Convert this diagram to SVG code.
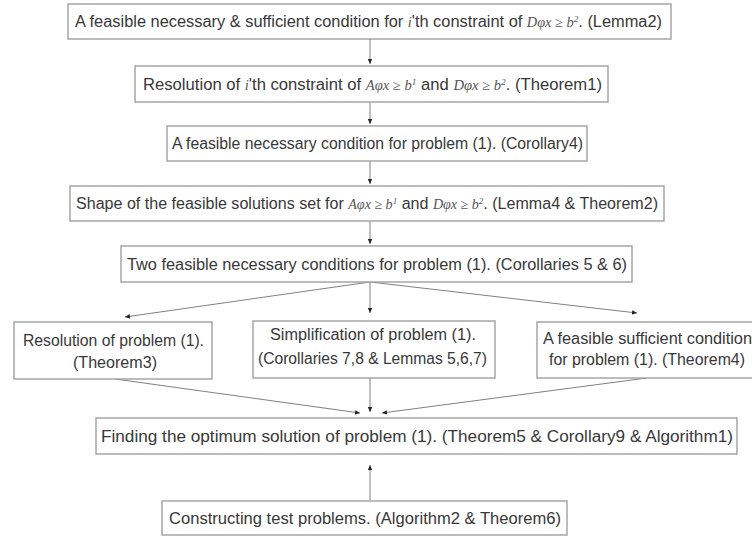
<svg xmlns="http://www.w3.org/2000/svg" width="752" height="542" viewBox="0 0 752 542">
<defs>
<marker id="ah" markerUnits="userSpaceOnUse" markerWidth="6" markerHeight="6" refX="5" refY="3" orient="auto">
<path d="M0,0.8 L5,3 L0,5.2 z" fill="#222"/>
</marker>
<style>
.box{fill:#fff;stroke:#a0a0a0;stroke-width:1.4}
.t{font-family:"Liberation Sans",Arial,sans-serif;font-size:16px;fill:#383838}
.m{font-family:"Liberation Serif","Times New Roman",serif;font-style:italic;font-size:14px;fill:#555}
.sup{font-size:9px}
.c{stroke:#808080;stroke-width:1;fill:none;marker-end:url(#ah)}
</style>
</defs>
<rect width="752" height="542" fill="#fff"/>
<g id="connectors">
<line class="c" x1="370" y1="39" x2="370" y2="64"/>
<line class="c" x1="370" y1="102" x2="370" y2="124"/>
<line class="c" x1="370" y1="161" x2="370" y2="184"/>
<line class="c" x1="370" y1="221" x2="370" y2="244"/>
<line class="c" x1="370" y1="282" x2="125" y2="317"/>
<line class="c" x1="370" y1="282" x2="370" y2="313"/>
<line class="c" x1="370" y1="282" x2="637" y2="313"/>
<line class="c" x1="115" y1="379" x2="360" y2="413"/>
<line class="c" x1="370" y1="378" x2="370" y2="412"/>
<line class="c" x1="647" y1="378" x2="382" y2="413"/>
<line class="c" x1="370" y1="500" x2="370" y2="465"/>
</g>
<g id="n1">
<rect class="box" x="68" y="4" width="603" height="35"/>
<text class="t" x="75" y="27" textLength="587" lengthAdjust="spacingAndGlyphs">A feasible necessary &amp; sufficient condition for <tspan class="m">i</tspan>'th constraint of <tspan class="m">Dφx ≥ b</tspan><tspan class="m sup" baseline-shift="super">2</tspan>. (Lemma2)</text>
</g>
<g id="n2">
<rect class="box" x="135" y="66" width="473" height="36"/>
<text class="t" x="143" y="90" textLength="459" lengthAdjust="spacingAndGlyphs">Resolution of <tspan class="m">i</tspan>'th constraint of <tspan class="m">Aφx ≥ b</tspan><tspan class="m sup" baseline-shift="super">1</tspan> and <tspan class="m">Dφx ≥ b</tspan><tspan class="m sup" baseline-shift="super">2</tspan>. (Theorem1)</text>
</g>
<g id="n3">
<rect class="box" x="167" y="126" width="420" height="35"/>
<text class="t" x="172" y="149" textLength="411" lengthAdjust="spacingAndGlyphs">A feasible necessary condition for problem (1). (Corollary4)</text>
</g>
<g id="n4">
<rect class="box" x="70" y="186" width="594" height="35"/>
<text class="t" x="76" y="209" textLength="582" lengthAdjust="spacingAndGlyphs">Shape of the feasible solutions set for <tspan class="m">Aφx ≥ b</tspan><tspan class="m sup" baseline-shift="super">1</tspan> and <tspan class="m">Dφx ≥ b</tspan><tspan class="m sup" baseline-shift="super">2</tspan>. (Lemma4 &amp; Theorem2)</text>
</g>
<g id="n5">
<rect class="box" x="121" y="246" width="511" height="36"/>
<text class="t" x="127" y="270" textLength="500" lengthAdjust="spacingAndGlyphs">Two feasible necessary conditions for problem (1). (Corollaries 5 &amp; 6)</text>
</g>
<g id="n6">
<rect class="box" x="14" y="322" width="198" height="57"/>
<text class="t" x="23" y="346" textLength="181" lengthAdjust="spacingAndGlyphs">Resolution of problem (1).</text>
<text class="t" x="73" y="368" textLength="84" lengthAdjust="spacingAndGlyphs">(Theorem3)</text>
</g>
<g id="n7">
<rect class="box" x="253" y="321" width="242" height="57"/>
<text class="t" x="270" y="340" textLength="206" lengthAdjust="spacingAndGlyphs">Simplification of problem (1).</text>
<text class="t" x="258" y="364" textLength="229" lengthAdjust="spacingAndGlyphs">(Corollaries 7,8 &amp; Lemmas 5,6,7)</text>
</g>
<g id="n8">
<rect class="box" x="537" y="322" width="220" height="56"/>
<text class="t" x="543" y="344" textLength="209" lengthAdjust="spacingAndGlyphs">A feasible sufficient condition</text>
<text class="t" x="549" y="365" textLength="196" lengthAdjust="spacingAndGlyphs">for problem (1). (Theorem4)</text>
</g>
<g id="n9">
<rect class="box" x="96" y="418" width="641" height="36"/>
<text class="t" x="101" y="442" textLength="632" lengthAdjust="spacingAndGlyphs">Finding the optimum solution of problem (1). (Theorem5 &amp; Corollary9 &amp; Algorithm1)</text>
</g>
<g id="n10">
<rect class="box" x="162" y="501" width="405" height="34"/>
<text class="t" x="169" y="524" textLength="392" lengthAdjust="spacingAndGlyphs">Constructing test problems. (Algorithm2 &amp; Theorem6)</text>
</g>
</svg>
